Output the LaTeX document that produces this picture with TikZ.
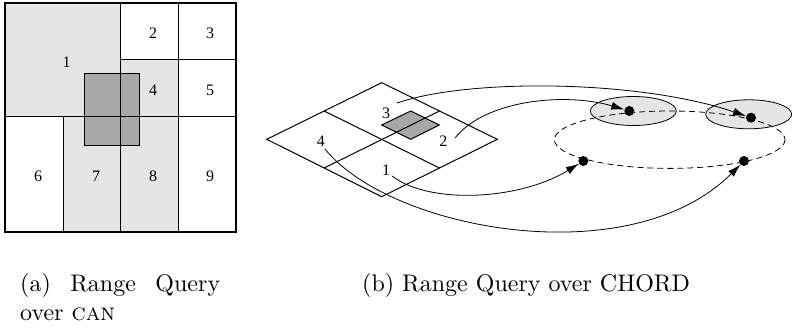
\documentclass[tikz,border=0pt]{standalone}
\usepackage{fontspec}
\newfontfamily\numfont{Liberation Serif}
\newfontfamily\capfont{lmroman10-regular.otf}[SmallCapsFont=lmromancaps10-regular.otf]
\usetikzlibrary{arrows.meta,calc}
\definecolor{lightg}{HTML}{E5E5E5}
\definecolor{darkg}{HTML}{A8A8A8}
\begin{document}
\begin{tikzpicture}[x=1pt,y=-1pt,
  num/.style={font=\numfont\fontsize{16}{16}\selectfont, inner sep=0pt},
  conn/.style={line width=0.8pt, -{Latex[length=13pt,width=8pt]}},
  dotnode/.style={circle, fill=black, inner sep=0pt, minimum size=10pt},
  ringline/.style={line width=0.8pt, dash pattern=on 6pt off 4pt},
  grid/.style={line width=1pt},
  caption/.style={font=\capfont\fontsize{24}{29}\selectfont, anchor=base west, inner sep=0pt}]
\useasboundingbox (0,0) rectangle (792,328);

% ---------- (a) CAN ----------
\fill[lightg] (5,3) rectangle (120,117);
\fill[lightg] (120,60) rectangle (178,117);
\fill[lightg] (63,117) rectangle (178,232);
\filldraw[fill=darkg, grid] (84,74) rectangle (139,146);
\draw[grid] (120,3) -- (120,232);
\draw[grid] (120,60) -- (236,60);
\draw[grid] (178,3) -- (178,232);
\draw[grid] (5,117) -- (236,117);
\draw[grid] (63,117) -- (63,232);
\draw[line width=2pt] (5,3) rectangle (236,232);

\node[num] (a1) at (66.7,62) {1};
\node[num] (a2) at (153,33) {2};
\node[num] (a3) at (210,33) {3};
\node[num] (a4) at (153,90) {4};
\node[num] (a5) at (210,90) {5};
\node[num] (a6) at (38,176) {6};
\node[num] (a7) at (96,176) {7};
\node[num] (a8) at (153,176) {8};
\node[num] (a9) at (210,176) {9};

% ---------- (b) CHORD ----------
\coordinate (T) at (381.7,82.7);
\coordinate (L) at (266.7,139.3);
\coordinate (R) at (497.3,139.3);
\coordinate (B) at (381.7,196.7);
\filldraw[fill=darkg, grid] (381.7,125) -- (410.7,111) -- (439.3,125) -- (410.7,139.3) -- cycle;
\draw[grid] (T) -- (R) -- (B) -- (L) -- cycle;
\draw[grid] ($(T)!0.5!(L)$) -- ($(R)!0.5!(B)$);
\draw[grid] ($(T)!0.5!(R)$) -- ($(L)!0.5!(B)$);

\node[num] (b3) at (386.2,113) {3};
\node[num] (b2) at (443.3,141.2) {2};
\node[num] (b4) at (320.8,141.2) {4};
\node[num] (b1) at (386,170.5) {1};

\filldraw[fill=lightg, line width=0.8pt] (633.3,111) ellipse [x radius=43, y radius=14.5];
\filldraw[fill=lightg, line width=0.8pt] (748.7,114.3) ellipse [x radius=43, y radius=14.5];
\draw[ringline] (669.7,139.7) ellipse [x radius=115.3, y radius=28.7];

\node[dotnode] (d1) at (629.3,111) {};
\node[dotnode] (d2) at (751,117.7) {};
\node[dotnode] (d3) at (583.3,161) {};
\node[dotnode] (d4) at (744,161) {};

\coordinate (s3) at (397,103);
\coordinate (s2) at (455,138);
\coordinate (s1) at (392,176);
\coordinate (s4) at (325,149);

\draw[conn] (s3) .. controls (470,78) and (640,80) .. (d2);
\draw[conn] (s2) .. controls (485,100) and (565,92) .. (d1);
\draw[conn] (s1) .. controls (430,205) and (520,200) .. (d3);
\draw[conn] (s4) .. controls (390,230) and (630,275) .. (d4);

% ---------- captions ----------
\node[caption] (capa) at (20,292) {\makebox[200pt][s]{(a) Range Query}};
\node[caption] (capa2) at (20,321) {over \textsc{can}};
\node[caption] (capb) at (362,292) {(b) Range Query over CHORD};
\end{tikzpicture}
\end{document}
